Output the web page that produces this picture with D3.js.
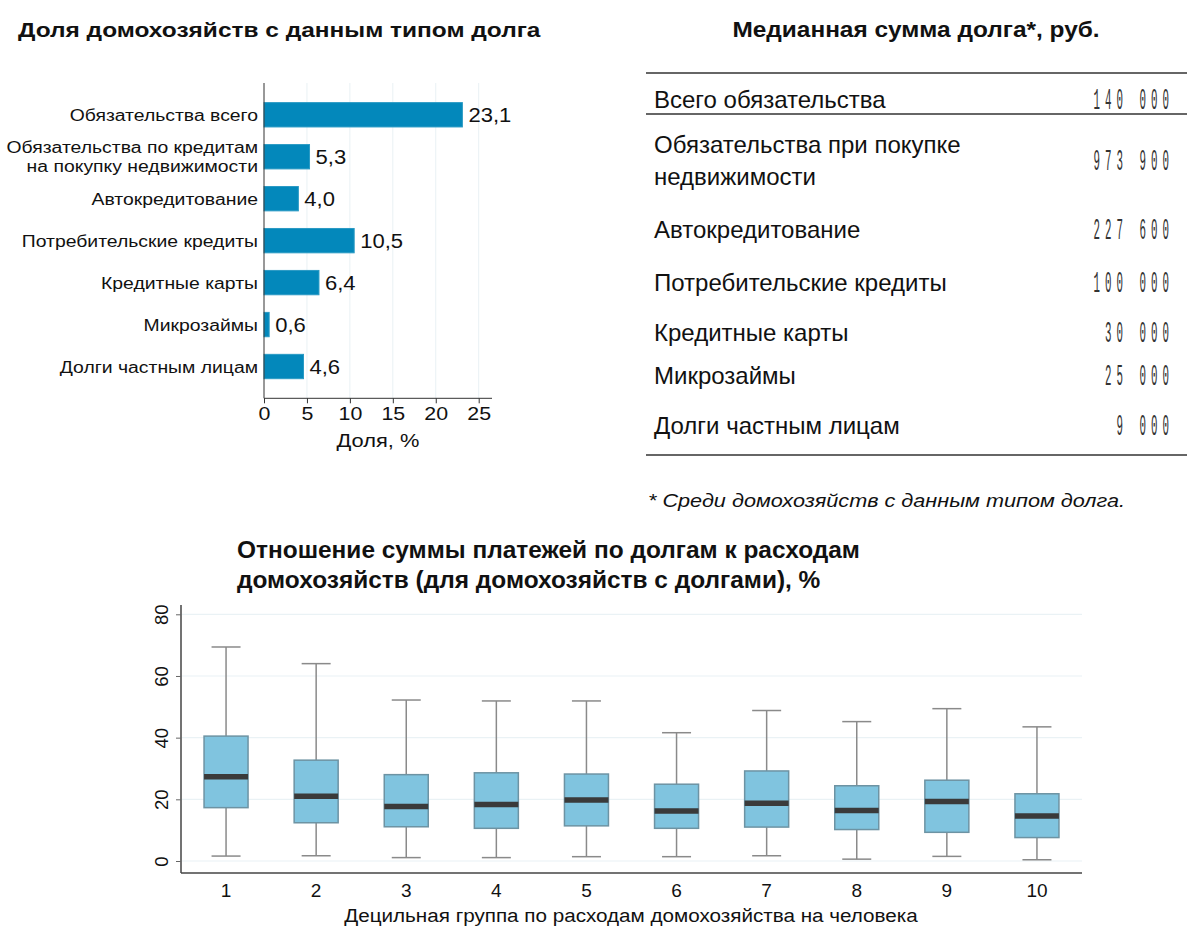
<!DOCTYPE html>
<html><head><meta charset="utf-8">
<script src="https://cdn.jsdelivr.net/npm/d3@7"></script>
<style>
body{margin:0;background:#fff;}
svg{display:block;font-family:Arial,"Liberation Sans",sans-serif;}
</style></head>
<body>
<svg id="c" width="1200" height="934"></svg>
<script>
// ---- Data ----
const barCategories = [["Обязательства всего"],["Обязательства по кредитам","на покупку недвижимости"],["Автокредитование"],["Потребительские кредиты"],["Кредитные карты"],["Микрозаймы"],["Долги частным лицам"]];
const barValues = [23.1, 5.3, 4.0, 10.5, 6.4, 0.6, 4.6];
const barTicks = [0,5,10,15,20,25];

const tableLabels = [["Всего обязательства"],["Обязательства при покупке","недвижимости"],["Автокредитование"],["Потребительские кредиты"],["Кредитные карты"],["Микрозаймы"],["Долги частным лицам"]];
const tableValues = ["140 000","973 900","227 600","100 000","30 000","25 000","9 000"];

const deciles = ["1","2","3","4","5","6","7","8","9","10"];
const whiskerLow  = [1.6, 1.7, 1.1, 1.1, 1.4, 1.4, 1.7, 0.6, 1.5, 0.4];
const q1          = [17.3,12.4,11.1,10.6,11.4,10.6,11.0,10.2, 9.3, 7.6];
const median      = [27.3,21.0,17.7,18.3,19.8,16.2,18.7,16.4,19.3,14.6];
const q3          = [40.5,32.7,28.0,28.6,28.2,24.9,29.2,24.4,26.2,21.8];
const whiskerHigh = [69.4,64.0,52.2,51.9,51.9,41.6,48.8,45.2,49.4,43.5];
const boxTicks = [0,20,40,60,80];

const svg = d3.select("#c");
const txt = "#111";

// text helper with horizontal stretch
function T(parent, x, y, str, size, sx, opts={}){
  const t = parent.append("text").attr("transform",`translate(${x},${y}) scale(${sx},1)`)
    .attr("font-size",size).attr("fill",txt).text(str);
  for (const k in opts) t.attr(k, opts[k]);
  return t;
}

// ---- Bar chart ----
T(svg, 18, 37, "Доля домохозяйств с данным типом долга", 21, 1.165, {"font-weight":"bold"});

const bx = d3.scaleLinear().domain([0,25]).range([264,478.7]);
const by = d3.scaleBand().domain(d3.range(barValues.length)).range([93.8,387.5]).paddingInner(0.42).paddingOuter(0.21);
const bg = svg.append("g");
bg.selectAll("line.grid").data(barTicks.slice(1)).join("line")
  .attr("x1",d=>bx(d)).attr("x2",d=>bx(d)).attr("y1",83).attr("y2",398)
  .attr("stroke","#e9f1f4").attr("stroke-width",1);
bg.selectAll("rect").data(barValues).join("rect")
  .attr("x",bx(0)).attr("y",(d,i)=>by(i)).attr("width",d=>bx(d)-bx(0)).attr("height",by.bandwidth())
  .attr("fill","#0388bb").attr("stroke","#2a9ac4").attr("stroke-width",1);
barValues.forEach((d,i)=>{
  T(bg, bx(d)+6, by(i)+by.bandwidth()/2, d.toFixed(1).replace(".",","), 19.5, 1.13, {"dy":"0.36em"});
});
barCategories.forEach((lines,i)=>{
  const cy=by(i)+by.bandwidth()/2, n=lines.length;
  lines.forEach((l,k)=>T(bg, 258, cy+(k-(n-1)/2)*19, l, 17.3, 1.12, {"dy":"0.36em","text-anchor":"end"}));
});
const bxa = bg.append("g").attr("transform","translate(0,398.3)")
  .call(d3.axisBottom(bx).tickValues(barTicks).tickSize(5).tickSizeOuter(0).tickPadding(4));
bxa.select(".domain").attr("d","M264,0H492").attr("stroke","#333");
bxa.selectAll(".tick line").attr("stroke","#333");
bxa.selectAll("text").attr("font-size",18.6).attr("fill",txt).attr("font-family","Arial,'Liberation Sans',sans-serif")
  .attr("transform","scale(1.15,1)");
bg.append("line").attr("x1",264).attr("x2",264).attr("y1",83).attr("y2",398.3).attr("stroke","#333");
T(bg, 378, 447, "Доля, %", 19, 1.15, {"text-anchor":"middle"});

// ---- Table ----
T(svg, 916, 37, "Медианная сумма долга*, руб.", 22, 1.11, {"text-anchor":"middle","font-weight":"bold"});
const rowY = [99, 160, 229, 282, 332, 375, 425];
const tg = svg.append("g");
[73,114,455].forEach(y=>tg.append("line").attr("x1",646).attr("x2",1187).attr("y1",y).attr("y2",y).attr("stroke","#333").attr("stroke-width",1.6));
tableLabels.forEach((lines,i)=>{
  const n=lines.length;
  lines.forEach((l,k)=>T(tg, 654, rowY[i]+(k-(n-1)/2)*32, l, 24, 1.0, {"dy":"0.36em"}));
});
tg.selectAll("text.num").data(tableValues).join("text").attr("class","num")
  .attr("transform",(d,i)=>`translate(1174,${rowY[i]+10}) scale(0.36,1)`)
  .attr("text-anchor","end").attr("font-family","'Liberation Mono','DejaVu Sans Mono',monospace")
  .attr("font-size",30).attr("letter-spacing",14).attr("fill","#333").text(d=>d);

T(svg, 648, 507, "* Среди домохозяйств с данным типом долга.", 19, 1.14, {"font-style":"italic"});

// ---- Box plot ----
T(svg, 237, 558, "Отношение суммы платежей по долгам к расходам", 23.5, 1.04, {"font-weight":"bold"});
T(svg, 237, 588, "домохозяйств (для домохозяйств с долгами), %", 23.5, 1.04, {"font-weight":"bold"});

const xs = d3.scaleBand().domain(deciles).range([181,1082]);
const ys = d3.scaleLinear().domain([0,80]).range([861,614.3]);
const pg = svg.append("g");
pg.selectAll("line.grid").data(boxTicks).join("line")
  .attr("x1",182).attr("x2",1082).attr("y1",d=>ys(d)).attr("y2",d=>ys(d))
  .attr("stroke","#eaf2f5").attr("stroke-width",1.2);
const boxW = 44, capW = 29;
const bgs = pg.selectAll("g.box").data(deciles).join("g").attr("class","box")
  .attr("transform",d=>`translate(${xs(d)+xs.bandwidth()/2},0)`);
const wc = "#8a8a8a";
bgs.append("line").attr("y1",(d,i)=>ys(whiskerHigh[i])).attr("y2",(d,i)=>ys(q3[i])).attr("stroke",wc).attr("stroke-width",1.5);
bgs.append("line").attr("y1",(d,i)=>ys(q1[i])).attr("y2",(d,i)=>ys(whiskerLow[i])).attr("stroke",wc).attr("stroke-width",1.5);
bgs.append("line").attr("x1",-capW/2).attr("x2",capW/2).attr("y1",(d,i)=>ys(whiskerHigh[i])).attr("y2",(d,i)=>ys(whiskerHigh[i])).attr("stroke",wc).attr("stroke-width",1.5);
bgs.append("line").attr("x1",-capW/2).attr("x2",capW/2).attr("y1",(d,i)=>ys(whiskerLow[i])).attr("y2",(d,i)=>ys(whiskerLow[i])).attr("stroke",wc).attr("stroke-width",1.5);
bgs.append("rect").attr("x",-boxW/2).attr("width",boxW)
  .attr("y",(d,i)=>ys(q3[i])).attr("height",(d,i)=>ys(q1[i])-ys(q3[i]))
  .attr("fill","#80c4df").attr("stroke","#6d93a3").attr("stroke-width",1.5);
bgs.append("line").attr("x1",-boxW/2).attr("x2",boxW/2).attr("y1",(d,i)=>ys(median[i])).attr("y2",(d,i)=>ys(median[i]))
  .attr("stroke","#3a3a3a").attr("stroke-width",5.5);

const pxa = pg.append("g").attr("transform","translate(0,873)")
  .call(d3.axisBottom(xs).tickSize(0).tickPadding(11));
pxa.select(".domain").attr("d","M181,0H1082").attr("stroke","#444").attr("stroke-width",1.5);
pxa.selectAll("text").attr("font-size",19).attr("fill",txt).attr("font-family","Arial,'Liberation Sans',sans-serif");
const pya = pg.append("g").attr("transform","translate(181,0)")
  .call(d3.axisLeft(ys).tickValues(boxTicks).tickSize(5).tickPadding(6));
pya.select(".domain").attr("d","M0,605V873").attr("stroke","#444").attr("stroke-width",1.5);
pya.selectAll(".tick line").attr("stroke","#666");
pya.selectAll(".tick text").attr("font-size",18.5).attr("fill",txt).attr("font-family","Arial,'Liberation Sans',sans-serif")
  .attr("text-anchor","middle").attr("x",0).attr("y",-20).attr("dy","0.36em")
  .attr("transform","rotate(-90)");
T(pg, 631, 922, "Децильная группа по расходам домохозяйства на человека", 19, 1.087, {"text-anchor":"middle"});
</script>
</body></html>
